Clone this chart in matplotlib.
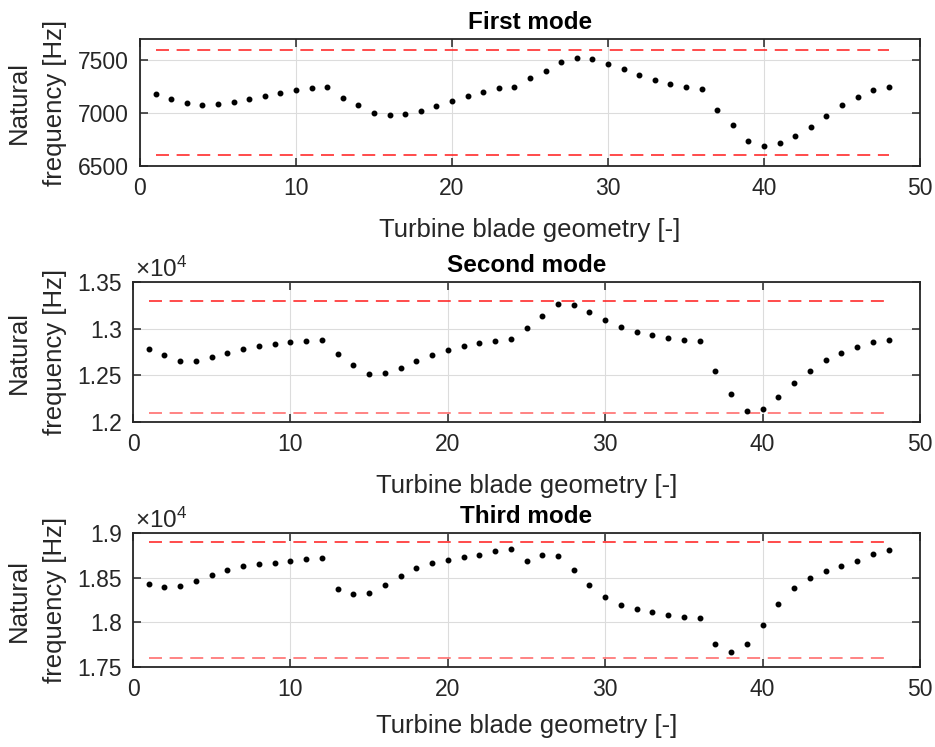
"""
Natural frequencies of the first three modes for each turbine blade geometry,
with the allowed band drawn as dashed red limits.
"""

import numpy as np
import matplotlib
matplotlib.use("Agg")
import matplotlib.pyplot as plt
from matplotlib.ticker import FuncFormatter

plt.rcParams['font.family'] = ['Liberation Sans', 'DejaVu Sans']
plt.rcParams['mathtext.fontset'] = 'custom'
plt.rcParams['mathtext.rm'] = 'Liberation Sans'
plt.rcParams['mathtext.it'] = 'Liberation Sans'

# geometry index 1..48
geometry = list(range(1, 49))

# natural frequencies [Hz]
mode1 = [7180, 7136, 7095, 7076, 7085, 7104, 7133, 7161, 7193, 7215,
         7234, 7244, 7142, 7079, 7003, 6978, 6987, 7022, 7066, 7117,
         7165, 7203, 7234, 7250, 7327, 7402, 7487, 7522, 7510, 7468,
         7415, 7364, 7313, 7272, 7244, 7231, 7025, 6883, 6737, 6690,
         6715, 6785, 6873, 6975, 7073, 7155, 7222, 7250]

mode2 = [12782, 12714, 12654, 12657, 12693, 12739, 12779, 12811, 12836, 12854,
         12868, 12875, 12729, 12614, 12518, 12521, 12582, 12654, 12721, 12775,
         12814, 12846, 12871, 12884, 13011, 13139, 13261, 13257, 13182, 13093,
         13021, 12968, 12932, 12904, 12882, 12871, 12543, 12300, 12121, 12143,
         12264, 12414, 12550, 12661, 12743, 12807, 12857, 12882]

mode3 = [18430, 18396, 18404, 18463, 18533, 18589, 18626, 18652, 18667, 18685,
         18704, 18719, 18374, 18319, 18330, 18419, 18522, 18607, 18663, 18700,
         18726, 18756, 18793, 18817, 18681, 18759, 18737, 18589, 18419, 18282,
         18196, 18144, 18111, 18085, 18063, 18048, 17756, 17670, 17759, 17974,
         18200, 18382, 18500, 18574, 18630, 18689, 18763, 18815]

titles = ['First mode', 'Second mode', 'Third mode']
limits = [(6600, 7600), (12100, 13300), (17600, 18900)]
ylims = [(6500, 7700), (12000, 13500), (17500, 19000)]
yticks = [[6500, 7000, 7500],
          [12000, 12500, 13000, 13500],
          [17500, 18000, 18500, 19000]]
scaled = [False, True, True]
# colour of the lower limit line (first panel draws both in full red)
low_colors = ['#ff1a1a', '#ff6262', '#ff6262']

W, H = 935, 747
fig = plt.figure(figsize=(W / 100, H / 100), dpi=100)

# axes boxes in pixels: left, top, right, bottom
boxes = [(140, 39, 920, 166), (133, 282, 920, 422), (133, 533, 920, 667)]
xlabel_pads = [13, 13, 9]

txt = '#262626'
for i, data in enumerate([mode1, mode2, mode3]):
    l, t, r, b = boxes[i]
    ax = fig.add_axes([l / W, 1 - b / H, (r - l) / W, (b - t) / H])

    lo, hi = limits[i]
    ax.plot([geometry[0], geometry[-1]], [hi, hi], color='#ff1a1a', lw=1.1,
            dashes=(8.5, 5))
    ax.plot([geometry[0], geometry[-1]], [lo, lo], color=low_colors[i], lw=1.1,
            dashes=(8.5, 5))
    ax.plot(geometry, data, 'k.', markersize=6.5, linestyle='none')

    ax.set_xlim(0, 50)
    ax.set_ylim(*ylims[i])
    ax.set_xticks([0, 10, 20, 30, 40, 50])
    ax.set_yticks(yticks[i])
    if scaled[i]:
        ax.yaxis.set_major_formatter(FuncFormatter(lambda v, p: '%g' % (v / 1e4)))
        ax.text(0.003, 1.0, r'$\times10^{4}$', transform=ax.transAxes,
                ha='left', va='bottom', fontsize=17.5, color=txt)

    ax.grid(True, color='#dcdcdc', linewidth=0.8)
    ax.set_axisbelow(True)
    ax.tick_params(direction='in', length=6, width=1.1, top=True, right=True,
                   labelsize=16.5, colors=txt, pad=8)
    for s in ax.spines.values():
        s.set_linewidth(1.3)
        s.set_color(txt)

    ax.set_title(titles[i], fontsize=17.5, fontweight='bold', pad=7, color='k')
    ax.set_xlabel('Turbine blade geometry [-]', fontsize=18.5, color=txt,
                  labelpad=xlabel_pads[i])
    fig.text(37 / W, 1 - (t + b) / 2 / H, 'Natural\nfrequency [Hz]',
             rotation=90, ha='center', va='center', multialignment='center',
             fontsize=18.5, color=txt, linespacing=1.65)

fig.savefig('out.png', dpi=100)
